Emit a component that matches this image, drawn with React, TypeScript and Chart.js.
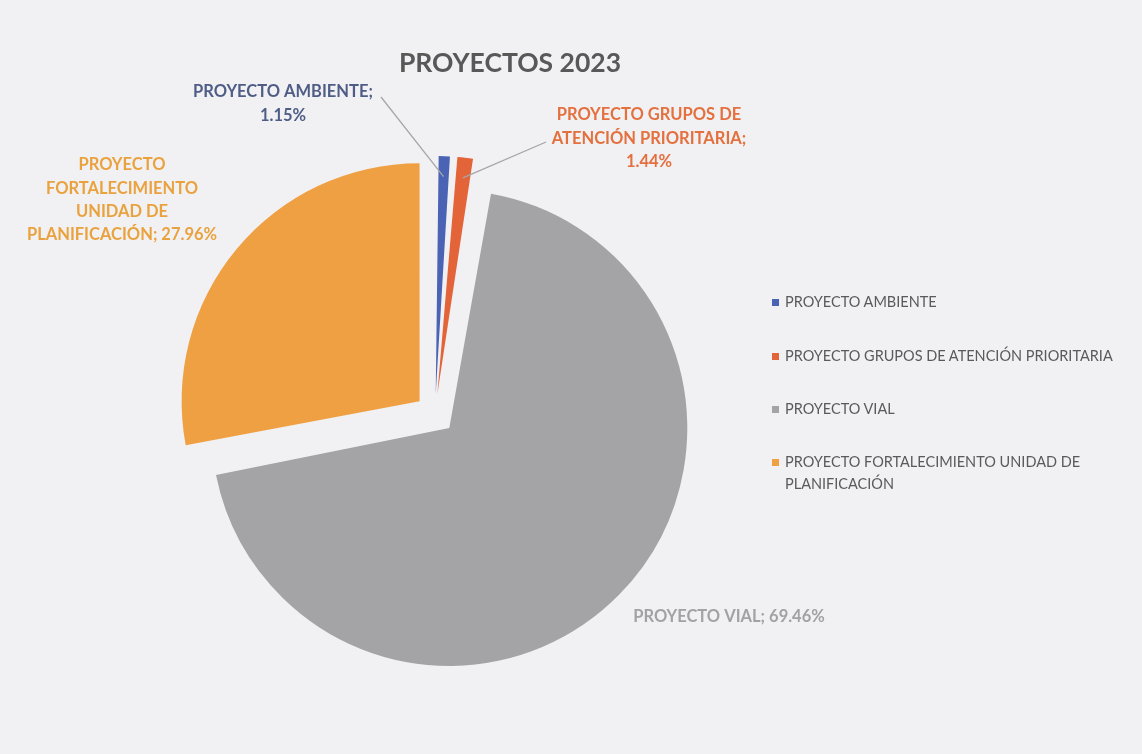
import React, { useEffect, useRef } from "react";
import { Chart, registerables } from "chart.js";

Chart.register(...registerables);

const categories = [
  "PROYECTO AMBIENTE",
  "PROYECTO GRUPOS DE ATENCIÓN PRIORITARIA",
  "PROYECTO VIAL",
  "PROYECTO FORTALECIMIENTO UNIDAD DE PLANIFICACIÓN",
];
const shares = [1.15, 1.44, 69.46, 27.96];
const sliceColors = ["#4a63b4", "#e4643a", "#a4a4a6", "#efa043"];
const labelColors = ["#4f5d86", "#e4703e", "#a2a2a4", "#e9a23e"];
const legendLines = [
  ["PROYECTO AMBIENTE"],
  ["PROYECTO GRUPOS DE ATENCIÓN PRIORITARIA"],
  ["PROYECTO VIAL"],
  ["PROYECTO FORTALECIMIENTO UNIDAD DE", "PLANIFICACIÓN"],
];

const pct = (i: number) => `${shares[i].toFixed(2)}%`;
const dataLabelLines = [
  [`${categories[0]};`, pct(0)],
  ["PROYECTO GRUPOS DE", "ATENCIÓN PRIORITARIA;", pct(1)],
  [`${categories[2]}; ${pct(2)}`],
  ["PROYECTO", "FORTALECIMIENTO", "UNIDAD DE", `PLANIFICACIÓN; ${pct(3)}`],
];
// label layout: center x, first line center y, line height, leader line start
const labelLayout = [
  { x: 283, y: 92, lh: 23.5, leader: { x: 381, y: 97 } },
  { x: 649, y: 115, lh: 23.5, leader: { x: 546, y: 142 } },
  { x: 729, y: 617, lh: 23, leader: null },
  { x: 122, y: 165, lh: 23.3, leader: null },
];

// Keep every exploded slice at the same radius (Chart.js otherwise enlarges some by the offset)
const equalRadiusPlugin = {
  id: "equalRadius",
  afterDatasetsUpdate(chart: any) {
    const meta = chart.getDatasetMeta(0);
    meta.data.forEach((arc: any) => {
      const off = (arc.options.offset || 0) / 4;
      const circ = arc.endAngle - arc.startAngle;
      const fix = 1 - Math.sin(Math.min(Math.PI, circ || 0));
      arc.outerRadius = arc.outerRadius - off * fix;
    });
  },
};

const labelPlugin = {
  id: "sliceLabels",
  afterDatasetsDraw(chart: any) {
    const ctx = chart.ctx;
    const meta = chart.getDatasetMeta(0);
    ctx.save();
    meta.data.forEach((arc: any, i: number) => {
      const lay = labelLayout[i];
      if (lay.leader) {
        const mid = (arc.startAngle + arc.endAngle) / 2;
        const off = (arc.options.offset || 0) / 4;
        const ex = arc.x + Math.cos(mid) * (arc.outerRadius + off - 2);
        const ey = arc.y + Math.sin(mid) * (arc.outerRadius + off - 2);
        ctx.strokeStyle = "#a6a6a8";
        ctx.lineWidth = 1.3;
        ctx.beginPath();
        ctx.moveTo(lay.leader.x, lay.leader.y);
        ctx.lineTo(ex, ey);
        ctx.stroke();
      }
      ctx.fillStyle = labelColors[i];
      ctx.font = "bold 16.5px Lato, 'Open Sans', sans-serif";
      ctx.textAlign = "center";
      ctx.textBaseline = "middle";
      dataLabelLines[i].forEach((line, k) => {
        ctx.fillText(line, lay.x, lay.y + k * lay.lh);
      });
    });
    ctx.restore();
  },
};

export default function App() {
  const ref = useRef<HTMLCanvasElement | null>(null);
  useEffect(() => {
    if (!ref.current) return;
    const chart = new Chart(ref.current, {
      type: "pie",
      data: {
        labels: categories,
        datasets: [
          {
            data: shares,
            backgroundColor: sliceColors,
            borderWidth: 0,
            offset: 80,
          },
        ],
      },
      options: {
        animation: false,
        responsive: false,
        maintainAspectRatio: false,
        events: [],
        layout: { padding: { left: 157, top: 136, right: 429, bottom: 62 } },
        plugins: {
          legend: { display: false },
          title: { display: false },
          tooltip: { enabled: false },
        },
      },
      plugins: [equalRadiusPlugin, labelPlugin],
    });
    return () => chart.destroy();
  }, []);

  return (
    <div
      style={{
        position: "fixed",
        left: 0,
        top: 0,
        width: 1142,
        height: 754,
        background: "#f1f1f3",
        fontFamily: "Lato, 'Open Sans', sans-serif",
        overflow: "hidden",
      }}
    >
      <canvas ref={ref} width={1142} height={754} style={{ position: "absolute", left: 0, top: 0 }} />
      <div
        style={{
          position: "absolute",
          left: 310,
          width: 400,
          top: 44,
          textAlign: "center",
          fontWeight: 700,
          fontSize: 26.5,
          color: "#585858",
          lineHeight: "36px",
        }}
      >
        PROYECTOS 2023
      </div>
      <div style={{ position: "absolute", left: 772, top: 291, width: 370 }}>
        {legendLines.map((lines, i) => (
          <div
            key={i}
            style={{
              position: "absolute",
              top: [0, 54, 107, 160][i],
              left: 0,
              display: "flex",
              alignItems: "flex-start",
            }}
          >
            <span
              style={{
                display: "inline-block",
                width: 7,
                height: 7,
                marginTop: 8,
                marginRight: 6,
                background: sliceColors[i],
              }}
            />
            <span style={{ fontSize: 14.5, color: "#5a5a5c", lineHeight: "22px", whiteSpace: "nowrap" }}>
              {lines.map((l, k) => (
                <div key={k}>{l}</div>
              ))}
            </span>
          </div>
        ))}
      </div>
    </div>
  );
}
